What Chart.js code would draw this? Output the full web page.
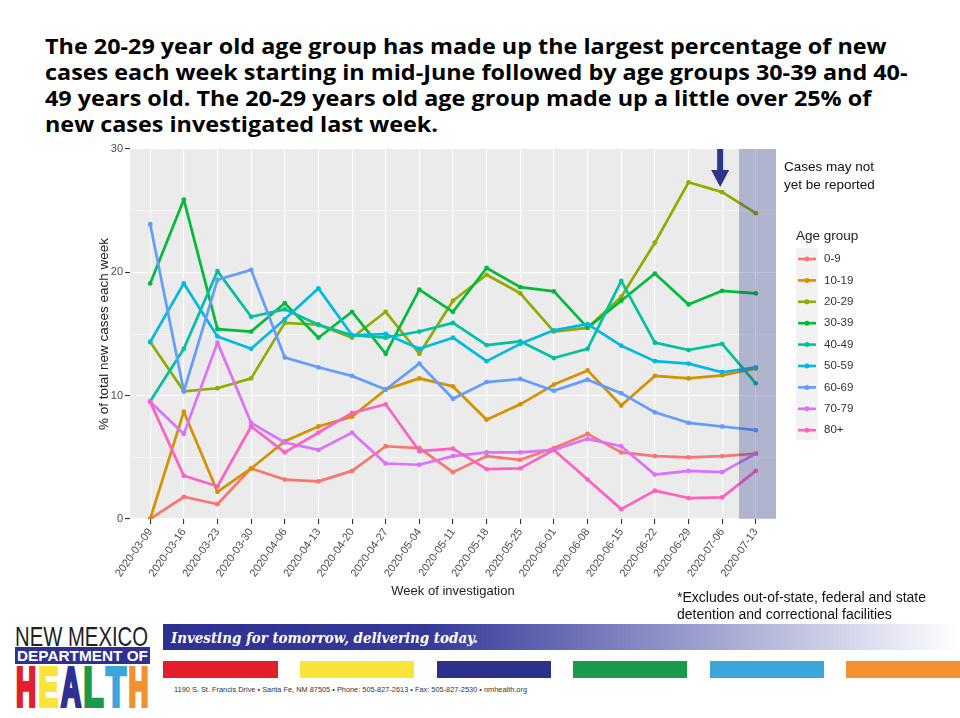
<!DOCTYPE html>
<html>
<head>
<meta charset="utf-8">
<script src="https://cdn.jsdelivr.net/npm/chart.js"></script>
<style>
  body { margin: 0; width: 960px; height: 718px; position: relative; overflow: hidden; background: #fff;
         font-family: "Liberation Sans", Arial, sans-serif; }
  #chart { position: absolute; left: 0; top: 0; }
  #deco { position: absolute; left: 0; top: 0; }
  .headline { position: absolute; left: 45px; top: 33px; font-family: "Open Sans", sans-serif;
              font-weight: bold; font-size: 21.5px; line-height: 26px; color: #000; white-space: nowrap;
              transform: scaleX(1.087); transform-origin: 0 0; }
  .lagnote { position: absolute; left: 784px; top: 158px; font-size: 13.5px; line-height: 18px; color: #111; }
  .footnote { position: absolute; left: 677px; top: 589px; font-size: 14px; line-height: 17px; color: #111; }
</style>
</head>
<body>
<div class="headline">The 20-29 year old age group has made up the largest percentage of new<br>cases each week starting in mid-June followed by age groups 30-39 and 40-<br>49 years old. The 20-29 years old age group made up a little over 25% of<br>new cases investigated last week.</div>

<svg id="deco" width="960" height="718">
  <defs>
    <linearGradient id="bannerFade" x1="0" x2="1" y1="0" y2="0">
      <stop offset="0" stop-color="#2E3192"/>
      <stop offset="0.33" stop-color="#34399A"/>
      <stop offset="1" stop-color="#ffffff"/>
    </linearGradient>
  </defs>
  <!-- logo -->
  <text x="15" y="646" font-family="Liberation Sans Narrow, Liberation Sans, Arial" font-size="28"
        textLength="133" lengthAdjust="spacingAndGlyphs" fill="#231F20">NEW MEXICO</text>
  <rect x="15" y="647" width="135" height="17" fill="#2E3192"/>
  <text x="17" y="661" font-family="Liberation Sans Narrow, Liberation Sans, Arial" font-weight="bold"
        font-size="15" textLength="131" lengthAdjust="spacingAndGlyphs" fill="#fff">DEPARTMENT OF</text>
  <g font-family="Liberation Sans, Arial" font-weight="bold" font-size="40" stroke-width="3" stroke-linejoin="miter">
    <text transform="translate(16,706) scale(1,1.4)" textLength="20" lengthAdjust="spacingAndGlyphs" fill="#E31E2D" stroke="#E31E2D">H</text>
    <text transform="translate(38.5,706) scale(1,1.4)" textLength="20" lengthAdjust="spacingAndGlyphs" fill="#F7E53B" stroke="#F7E53B">E</text>
    <text transform="translate(61,706) scale(1,1.4)" textLength="20" lengthAdjust="spacingAndGlyphs" fill="#2E3192" stroke="#2E3192">A</text>
    <text transform="translate(83.5,706) scale(1,1.4)" textLength="20" lengthAdjust="spacingAndGlyphs" fill="#1A9A4B" stroke="#1A9A4B">L</text>
    <text transform="translate(106,706) scale(1,1.4)" textLength="20" lengthAdjust="spacingAndGlyphs" fill="#3AA6DC" stroke="#3AA6DC">T</text>
    <text transform="translate(128.5,706) scale(1,1.4)" textLength="20" lengthAdjust="spacingAndGlyphs" fill="#F39131" stroke="#F39131">H</text>
  </g>
  <!-- banner -->
  <rect x="163" y="624" width="797" height="26" fill="url(#bannerFade)"/>
  <text x="171" y="643" font-family="DejaVu Serif, serif" font-weight="bold" font-style="italic" font-size="15"
        textLength="307" lengthAdjust="spacingAndGlyphs" fill="#fff">Investing for tomorrow, delivering today.</text>
  <rect x="163" y="661" width="115" height="17" fill="#E31E2D"/>
  <rect x="300" y="661" width="114" height="17" fill="#F7E53B"/>
  <rect x="437" y="661" width="114" height="17" fill="#2E3189"/>
  <rect x="573" y="661" width="114" height="17" fill="#1A9A4B"/>
  <rect x="710" y="661" width="114" height="17" fill="#3AA6DC"/>
  <rect x="846" y="661" width="114" height="17" fill="#F39131"/>
  <text x="174" y="692" font-family="Liberation Sans Narrow, Liberation Sans, Arial" font-size="8"
        textLength="353" lengthAdjust="spacingAndGlyphs" fill="#333">1190 S. St. Francis Drive • Santa Fe, NM 87505 • Phone: 505-827-2613 • Fax: 505-827-2530 • nmhealth.org</text>
</svg>

<canvas id="chart" width="960" height="718"></canvas>

<div class="lagnote">Cases may not<br>yet be reported</div>
<div class="footnote">*Excludes out-of-state, federal and state<br>detention and correctional facilities</div>

<script>
// --- data ---
const weeks = ['2020-03-09', '2020-03-16', '2020-03-23', '2020-03-30', '2020-04-06', '2020-04-13',
               '2020-04-20', '2020-04-27', '2020-05-04', '2020-05-11', '2020-05-18', '2020-05-25',
               '2020-06-01', '2020-06-08', '2020-06-15', '2020-06-22', '2020-06-29', '2020-07-06',
               '2020-07-13'];

const ageGroups = ['0-9', '10-19', '20-29', '30-39', '40-49', '50-59', '60-69', '70-79', '80+'];

const pct0to9   = [0, 1.8, 1.2, 4.1, 3.2, 3.05, 3.9, 5.9, 5.75, 3.8, 5.1, 4.8, 5.75, 6.9, 5.4, 5.1, 5.0, 5.1, 5.3];
const pct10to19 = [0, 8.7, 2.2, 4.1, 6.3, 7.5, 8.3, 10.5, 11.4, 10.75, 8.05, 9.3, 10.9, 12.05, 9.2, 11.6, 11.4, 11.65, 12.2];
const pct20to29 = [14.35, 10.35, 10.6, 11.4, 15.9, 15.75, 14.7, 16.8, 13.4, 17.7, 19.8, 18.3, 15.2, 15.5, 18.0, 22.4, 27.3, 26.5, 24.8];
const pct30to39 = [19.1, 25.9, 15.4, 15.2, 17.5, 14.7, 16.8, 13.4, 18.6, 16.8, 20.35, 18.8, 18.45, 15.5, 17.7, 19.9, 17.4, 18.5, 18.3];
const pct40to49 = [9.54, 13.8, 20.1, 16.4, 17.0, 15.75, 14.9, 14.7, 15.2, 15.9, 14.1, 14.4, 13.05, 13.8, 19.3, 14.3, 13.7, 14.2, 11.0];
const pct50to59 = [14.35, 19.1, 14.8, 13.8, 16.2, 18.7, 14.9, 15.0, 13.8, 14.7, 12.8, 14.2, 15.3, 15.8, 14.05, 12.8, 12.6, 11.9, 12.3];
const pct60to69 = [23.9, 10.35, 19.4, 20.2, 13.1, 12.3, 11.6, 10.5, 12.6, 9.75, 11.1, 11.35, 10.4, 11.3, 10.2, 8.65, 7.8, 7.5, 7.2];
const pct70to79 = [9.5, 6.9, 14.3, 7.8, 6.2, 5.6, 7.0, 4.5, 4.4, 5.1, 5.4, 5.4, 5.6, 6.5, 5.9, 3.6, 3.9, 3.8, 5.3];
const pct80plus = [9.5, 3.5, 2.65, 7.5, 5.4, 7.0, 8.6, 9.3, 5.5, 5.7, 4.05, 4.1, 5.6, 3.2, 0.8, 2.3, 1.7, 1.75, 3.9];

const yTicks = [0, 10, 20, 30];

// ggplot default hue palette for 9 groups
const hueColors = ['#F8766D', '#D39200', '#93AA00', '#00BA38', '#00C19F', '#00B9E3', '#619CFF', '#DB72FB', '#FF61C3'];

// weeks still filling in (shaded), and the week flagged with the arrow
const pendingFrom = 17.5;
const arrowWeek = 17;

const series = [pct0to9, pct10to19, pct20to29, pct30to39, pct40to49, pct50to59, pct60to69, pct70to79, pct80plus];

// --- panel background ---
const panelBg = {
    id: 'panelBg',
    beforeDraw(chart) {
        const { ctx, chartArea: a } = chart;
        ctx.save();
        ctx.fillStyle = '#EBEBEB';
        ctx.fillRect(a.left, a.top, a.right - a.left, a.bottom - a.top);
        ctx.restore();
    }
};

// --- shaded "not yet reported" band + arrow ---
const lagBand = {
    id: 'lagBand',
    afterDatasetsDraw(chart) {
        const { ctx, chartArea: a, scales } = chart;
        const bx = scales.x.getPixelForValue(pendingFrom);
        ctx.save();
        ctx.fillStyle = 'rgba(43, 53, 137, 0.3)';
        ctx.fillRect(bx, a.top, a.right - bx, a.bottom - a.top);

        const ax = scales.x.getPixelForValue(arrowWeek) - 2;
        ctx.fillStyle = '#2B3589';
        ctx.fillRect(ax - 3, a.top, 6, 22);
        ctx.beginPath();
        ctx.moveTo(ax - 9, a.top + 21);
        ctx.lineTo(ax + 9, a.top + 21);
        ctx.lineTo(ax, a.top + 38);
        ctx.closePath();
        ctx.fill();
        ctx.restore();
    }
};

// --- ggplot-style legend on the right ---
const ageLegend = {
    id: 'ageLegend',
    afterDraw(chart) {
        const ctx = chart.ctx;
        ctx.save();
        ctx.textAlign = 'left';
        ctx.textBaseline = 'middle';
        ctx.fillStyle = '#222';
        ctx.font = '13.5px "Liberation Sans", Arial, sans-serif';
        ctx.fillText('Age group', 796, 236);

        ctx.fillStyle = '#F2F2F2';
        ctx.fillRect(796, 248, 22, 192);

        chart.data.datasets.forEach((ds, i) => {
            const y = 259 + i * 21.4;
            ctx.strokeStyle = ds.borderColor;
            ctx.lineWidth = 2.6;
            ctx.beginPath();
            ctx.moveTo(798, y);
            ctx.lineTo(816, y);
            ctx.stroke();
            ctx.fillStyle = ds.borderColor;
            ctx.beginPath();
            ctx.arc(807, y, 2.5, 0, Math.PI * 2);
            ctx.fill();
            ctx.fillStyle = '#333';
            ctx.font = '11.5px "Liberation Sans", Arial, sans-serif';
            ctx.fillText(ds.label, 824, y);
        });
        ctx.restore();
    }
};

const datasets = ageGroups.map((g, i) => ({
    label: g,
    data: series[i].map((v, w) => ({ x: w, y: v })),
    borderColor: hueColors[i],
    backgroundColor: hueColors[i],
    borderWidth: 2.7,
    borderJoinStyle: 'round',
    pointRadius: 2.4,
    pointBorderWidth: 0,
    tension: 0,
    order: ageGroups.length - 1 - i   // last group on top, like ggplot
}));

const tickFont = { family: '"Liberation Sans", Arial, sans-serif', size: 11 };

new Chart(document.getElementById('chart'), {
    type: 'line',
    data: { datasets },
    options: {
        responsive: false,
        animation: false,
        layout: { padding: { left: 96, top: 149, right: 184, bottom: 118 } },
        plugins: {
            legend: { display: false },
            tooltip: { enabled: false }
        },
        scales: {
            x: {
                type: 'linear',
                min: -0.6,
                max: weeks.length - 0.4,
                afterBuildTicks: s => { s.ticks = weeks.map((_, i) => ({ value: i })); },
                afterFit: s => { s.height = 81; },
                ticks: {
                    autoSkip: false,
                    minRotation: 55,
                    maxRotation: 55,
                    padding: 2,
                    color: '#4D4D4D',
                    font: tickFont,
                    callback: v => weeks[v]
                },
                grid: { color: '#ffffff', lineWidth: 1.1, tickLength: 5, tickColor: '#333' },
                border: { display: false },
                title: {
                    display: true,
                    text: 'Week of investigation',
                    color: '#222',
                    font: { family: '"Liberation Sans", Arial, sans-serif', size: 13 },
                    padding: { top: 0, bottom: 1 }
                }
            },
            y: {
                min: 0,
                max: 30,
                afterFit: s => { s.width = 34; },
                ticks: {
                    stepSize: 5,
                    padding: 2,
                    color: '#4D4D4D',
                    font: tickFont,
                    callback: v => yTicks.includes(v) ? String(v) : ''
                },
                grid: {
                    color: '#ffffff',
                    lineWidth: c => yTicks.includes(c.tick.value) ? 1.1 : 0.5,
                    tickLength: 5,
                    tickColor: c => yTicks.includes(c.tick.value) ? '#333' : 'rgba(0,0,0,0)'
                },
                border: { display: false },
                title: {
                    display: true,
                    text: '% of total new cases each week',
                    color: '#222',
                    font: { family: '"Liberation Sans", Arial, sans-serif', size: 13.5 },
                    padding: { top: 0, bottom: 0 }
                }
            }
        }
    },
    plugins: [panelBg, lagBand, ageLegend]
});
</script>
</body>
</html>
